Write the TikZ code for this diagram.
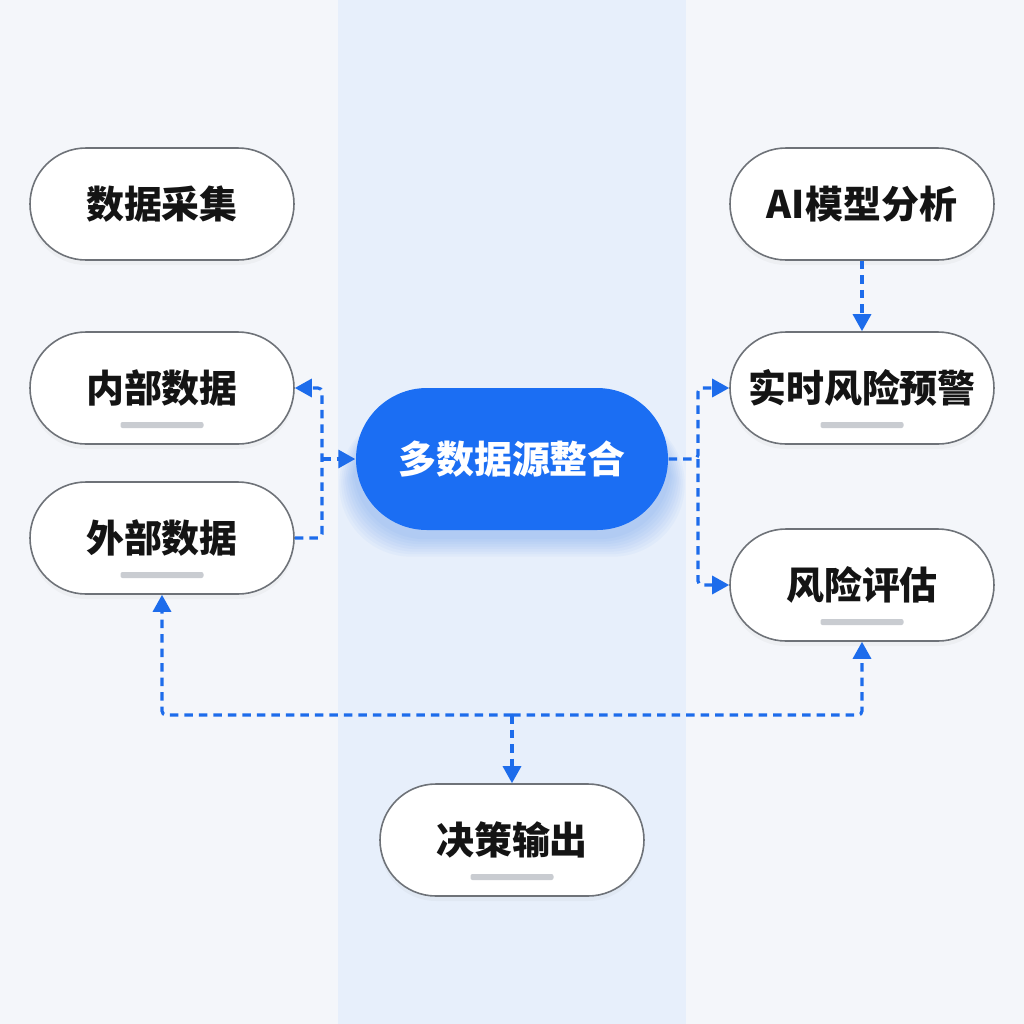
\documentclass[tikz,border=0pt]{standalone}
\usepackage{fontspec}
\setmainfont{Noto Sans CJK SC}
\usetikzlibrary{
  positioning, arrows.meta, shadows, calc, backgrounds
}
\definecolor{pagebg}{HTML}{F4F6FA}
\definecolor{bandblue}{HTML}{E7EFFB}
\definecolor{hubblue}{HTML}{1B6EF3}
\definecolor{linkblue}{HTML}{1D6CEB}
\definecolor{rimgray}{HTML}{6E7278}
\definecolor{bargray}{HTML}{C9CCD1}

\begin{document}
\begin{tikzpicture}[
    every node/.style={font=\fontsize{10.8}{13}\selectfont\bfseries, text=black!92},
    stage/.style={draw=rimgray, line width=0.45pt, fill=white, rounded corners=0.56cm,
      minimum width=2.64cm, minimum height=1.12cm, inner sep=0pt,
      drop shadow={opacity=0.06, shadow xshift=0pt, shadow yshift=-0.05cm}},
    hub/.style={fill=hubblue, text=white, rounded corners=0.71cm,
      minimum width=3.12cm, minimum height=1.42cm, inner sep=0pt},
    link/.style={draw=linkblue, line width=0.9pt, dash pattern=on 0.085cm off 0.06cm,
      rounded corners=0.04cm, -{Triangle[length=0.17cm, width=0.18cm]}},
    bar/.style={fill=bargray, rounded corners=0.02cm},
  ]
  % page and middle band
  \begin{scope}[on background layer]
    \fill[pagebg] (0,0) rectangle (10.24,-10.24);
    \fill[bandblue] (3.38,0) rectangle (6.86,-10.24);
  \end{scope}
  \useasboundingbox (0,0) rectangle (10.24,-10.24);

  % left column
  \node[stage] (caiji) at (1.62,-2.04) {数据采集};
  \node[stage] (neibu) at (1.62,-3.88) {内部数据};
  \node[stage] (waibu) at (1.62,-5.38) {外部数据};
  % centre
  \node[hub] (hub) at (5.12,-4.59) {多数据源整合};
  \node[stage] (juece) at (5.12,-8.40) {决策输出};
  % right column
  \node[stage] (ai) at (8.62,-2.04) {AI模型分析};
  \node[stage] (yujing) at (8.62,-3.88) {实时风险预警};
  \node[stage] (pinggu) at (8.62,-5.85) {风险评估};

  % glow under the hub
  \begin{scope}[on background layer]
    \foreach \g in {1,...,8}
      \fill[hubblue, opacity=0.035, rounded corners=0.72cm]
        ($(hub.south west)+(-0.02*\g,-0.06-0.025*\g)$) rectangle
        ($(hub.north east)+(0.02*\g,-0.25)$);
  \end{scope}

  % grey bars under labels
  \foreach \n in {neibu, waibu, yujing, pinggu, juece}
    \fill[bar] ($(\n.center)+(-0.415,-0.34)$) rectangle ++(0.83,-0.06);

  % connectors
  \coordinate (lbus) at (3.22,-4.59);
  \coordinate (rbus) at (6.98,-4.59);
  \coordinate (bbus) at (5.12,-7.15);
  \draw[link] (waibu.east) -| (lbus) |- (neibu.east);
  \draw[link] (lbus) -- (hub.west);
  \draw[link] (hub.east) -- (rbus) |- (yujing.west);
  \draw[link] (rbus) |- (pinggu.west);
  \draw[link] (ai.south) -- (yujing.north);
  \draw[link] (bbus) -| (waibu.south);
  \draw[link] (bbus) -| (pinggu.south);
  \draw[link] (bbus) -- (juece.north);
\end{tikzpicture}
\end{document}
